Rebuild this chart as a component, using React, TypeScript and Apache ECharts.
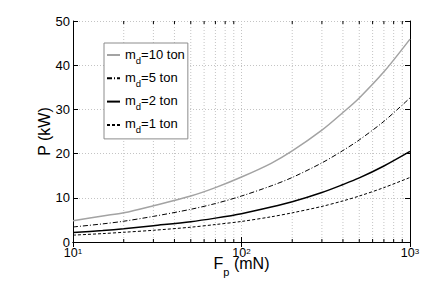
import React, { useEffect, useRef } from 'react';
import * as echarts from 'echarts';

// Thrust F_p (mN) sample positions and power P (kW)
const thrust = [10, 15, 20, 30, 50, 70, 100, 150, 200, 300, 400, 500, 700, 1000];
const p10 = [4.8, 5.9, 6.6, 8.2, 10.4, 12.3, 14.7, 17.8, 20.6, 25.3, 29.3, 32.6, 38.5, 45.9];
const p5 = [3.4, 4.1, 4.7, 5.8, 7.4, 8.7, 10.4, 12.7, 14.6, 17.9, 20.7, 23.1, 27.3, 32.6];
const p2 = [2.15, 2.6, 3.0, 3.7, 4.6, 5.4, 6.4, 7.9, 9.1, 11.2, 13.0, 14.5, 17.2, 20.5];
const p1 = [1.55, 1.9, 2.2, 2.65, 3.35, 3.95, 4.65, 5.7, 6.6, 8.05, 9.3, 10.4, 12.3, 14.6];
const seriesNames = ['m_d=10 ton', 'm_d=5 ton', 'm_d=2 ton', 'm_d=1 ton'];
const massLabels = ['10', '5', '2', '1'];
const minorTicks = [20, 30, 40, 50, 60, 70, 80, 90, 200, 300, 400, 500, 600, 700, 800, 900];

const FONT = 'Liberation Sans, Arial, Helvetica, sans-serif';
const GRID = '#c4c4c4';

export default function App() {
  const ref = useRef<HTMLDivElement>(null);
  useEffect(() => {
    if (!ref.current) return;
    const chart = echarts.init(ref.current, undefined, { renderer: 'svg' });
    const mk = (v: number[]) => v.map((y, i) => [thrust[i], y]);
    const lineSeries = (name: string, data: number[], color: string, width: number, type: any) => ({
      type: 'line',
      name,
      data: mk(data),
      symbol: 'none',
      smooth: 0.3,
      silent: true,
      z: 5,
      lineStyle: { color, width, type },
      itemStyle: { color },
    });
    const option: any = {
      animation: false,
      textStyle: { fontFamily: FONT },
      grid: { left: 73, right: 26, top: 21, bottom: 57, containLabel: false },
      legend: {
        data: seriesNames,
        orient: 'vertical',
        left: 104,
        top: 43,
        itemWidth: 13,
        itemHeight: 10,
        itemGap: 3.3,
        padding: [2, 3, 4, 2],
        backgroundColor: '#fff',
        borderColor: '#8c8c8c',
        borderWidth: 1,
        selectedMode: false,
        itemStyle: { opacity: 0, borderWidth: 0 },
        formatter: (name: string) => {
          const i = seriesNames.indexOf(name);
          return `{a|m}{s|d}{a|=${massLabels[i]} ton}`;
        },
        textStyle: {
          color: '#000',
          fontFamily: FONT,
          rich: {
            a: { fontSize: 13, lineHeight: 16, padding: [0, 0, 2, 0], fontFamily: FONT, color: '#000' },
            s: { fontSize: 9.5, lineHeight: 8, padding: [10, 0, 0, 0], fontFamily: FONT, color: '#000' },
          },
        },
      },
      xAxis: [
        {
          type: 'log',
          logBase: 10,
          min: 10,
          max: 1000,
          name: '{a|F}{s|p}{a| (mN)}',
          nameLocation: 'middle',
          nameGap: 17,
          nameMoveOverlap: false,
          nameTextStyle: {
            rich: {
              a: { fontSize: 16, lineHeight: 14, padding: [0, 0, 6, 0], fontFamily: FONT, color: '#000' },
              s: { fontSize: 11, lineHeight: 9, padding: [11, 0, 0, 0], fontFamily: FONT, color: '#000' },
            },
          },
          axisLine: { show: true, lineStyle: { color: '#000', width: 1 } },
          axisTick: { show: true, inside: true, length: 5, lineStyle: { color: '#000' } },
          axisLabel: {
            margin: 6,
            formatter: (v: number) => `{b|10}{s|${Math.round(Math.log10(v))}}`,
            rich: {
              b: { fontSize: 12.5, lineHeight: 10, fontFamily: FONT, color: '#000' },
              s: { fontSize: 8, lineHeight: 6, padding: [0, 0, 4, 0], fontFamily: FONT, color: '#000' },
            },
          },
          splitLine: { show: true, lineStyle: { color: GRID, type: [1, 2], width: 1 } },
        },
        {
          type: 'log',
          logBase: 10,
          min: 10,
          max: 1000,
          position: 'top',
          axisLine: { show: true, lineStyle: { color: '#000', width: 1 } },
          axisTick: { show: true, inside: true, length: 5, lineStyle: { color: '#000' } },
          axisLabel: { show: false },
          splitLine: { show: false },
        },
      ],
      yAxis: [
        {
          type: 'value',
          min: 0,
          max: 50,
          interval: 10,
          name: 'P (kW)',
          nameLocation: 'middle',
          nameGap: 21,
          nameMoveOverlap: false,
          nameTextStyle: { fontSize: 16, fontFamily: FONT, color: '#000' },
          axisLine: { show: true, lineStyle: { color: '#000', width: 1 } },
          axisTick: { show: true, inside: true, length: 5, lineStyle: { color: '#000' } },
          axisLabel: { margin: 3, fontSize: 13, lineHeight: 10, color: '#000', fontFamily: FONT },
          splitLine: { show: true, lineStyle: { color: GRID, type: [1, 2], width: 1 } },
        },
        {
          type: 'value',
          min: 0,
          max: 50,
          interval: 10,
          position: 'right',
          axisLine: { show: true, lineStyle: { color: '#000', width: 1 } },
          axisTick: { show: true, inside: true, length: 5, lineStyle: { color: '#000' } },
          axisLabel: { show: false },
          splitLine: { show: false },
        },
      ],
      series: [
        {
          type: 'custom',
          name: 'minor',
          silent: true,
          z: 1,
          data: minorTicks.map((v) => [v, 0]),
          renderItem: (params: any, api: any) => {
            const x = api.coord([api.value(0), 0])[0];
            const cs = params.coordSys;
            const top = cs.y;
            const bottom = cs.y + cs.height;
            return {
              type: 'group',
              children: [
                { type: 'line', shape: { x1: x, y1: top, x2: x, y2: bottom }, style: { stroke: GRID, lineWidth: 1, lineDash: [1, 2] } },
                { type: 'line', shape: { x1: x, y1: bottom, x2: x, y2: bottom - 3 }, style: { stroke: '#000', lineWidth: 1 } },
                { type: 'line', shape: { x1: x, y1: top, x2: x, y2: top + 3 }, style: { stroke: '#000', lineWidth: 1 } },
              ],
            };
          },
        },
        lineSeries(seriesNames[0], p10, '#a3a3a3', 1.5, 'solid'),
        lineSeries(seriesNames[1], p5, '#000', 1, [5, 2, 1, 2]),
        lineSeries(seriesNames[2], p2, '#000', 1.5, 'solid'),
        lineSeries(seriesNames[3], p1, '#000', 1, [3, 2]),
      ],
    };
    chart.setOption(option);
    return () => chart.dispose();
  }, []);
  return <div ref={ref} style={{ position: 'absolute', left: 0, top: 0, width: 436, height: 299, background: '#fff' }} />;
}
